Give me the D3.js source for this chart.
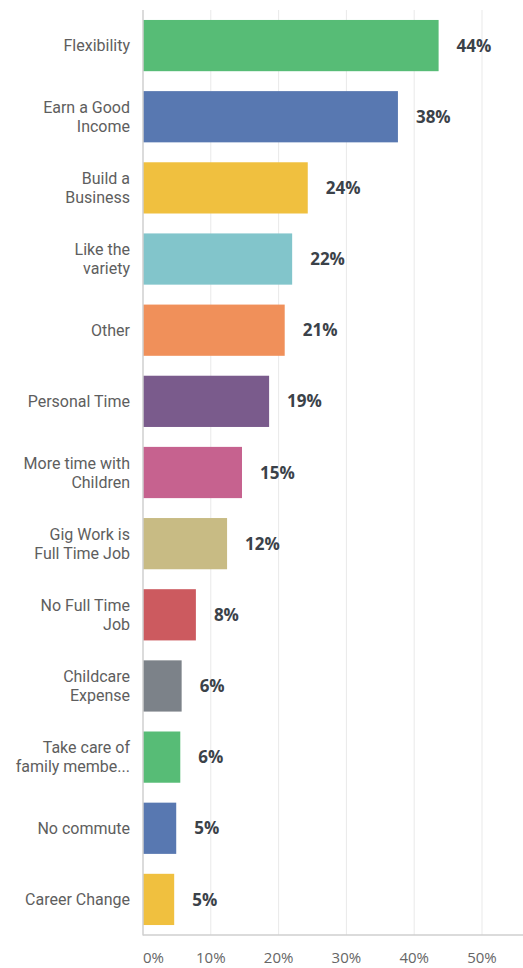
<!DOCTYPE html>
<html><head><meta charset="utf-8">
<script src="https://cdn.jsdelivr.net/npm/d3@7"></script>
<style>
html,body{margin:0;padding:0;background:#fff;}
svg{display:block;}
</style></head>
<body>
<svg id="chart" width="523" height="968"></svg>
<script>
const categories = [
  ["Flexibility"],
  ["Earn a Good","Income"],
  ["Build a","Business"],
  ["Like the","variety"],
  ["Other"],
  ["Personal Time"],
  ["More time with","Children"],
  ["Gig Work is","Full Time Job"],
  ["No Full Time","Job"],
  ["Childcare","Expense"],
  ["Take care of","family membe..."],
  ["No commute"],
  ["Career Change"]
];
const values = [43.6, 37.6, 24.3, 22.0, 20.9, 18.6, 14.6, 12.4, 7.8, 5.7, 5.5, 4.9, 4.6];
const colors = ["#57bc76","#5878b1","#f0c03f","#82c5cb","#f0905a","#7a5b8c","#c6628f","#c8bb84","#cc5a5f","#7c8289","#57bc76","#5878b1","#f0c03f"];
const ticks = [0,10,20,30,40,50];

const svg = d3.select("#chart");
const x0 = 143, x1 = 482, yTop = 10, yBot = 935;
const x = d3.scaleLinear().domain([0,50]).range([x0,x1]);
const y = d3.scaleBand().domain(d3.range(categories.length)).range([yTop,yBot]).paddingInner(0.28).paddingOuter(0.14);

// gridlines
svg.append("g").selectAll("line").data(ticks.slice(1)).join("line")
  .attr("x1",d=>x(d)).attr("x2",d=>x(d)).attr("y1",yTop).attr("y2",yBot)
  .attr("stroke","#e9e9e9").attr("stroke-width",1);

// bars
svg.append("g").selectAll("rect").data(values).join("rect")
  .attr("x",x(0)).attr("y",(d,i)=>y(i)).attr("width",d=>x(d)-x(0)).attr("height",y.bandwidth())
  .attr("fill",(d,i)=>colors[i]);

// axis lines
svg.append("line").attr("x1",x0).attr("x2",x0).attr("y1",yTop).attr("y2",yBot+0.5).attr("stroke","#cfcfcf").attr("stroke-width",1.5);
svg.append("line").attr("x1",x0).attr("x2",523).attr("y1",yBot).attr("y2",yBot).attr("stroke","#cfcfcf").attr("stroke-width",1.5);

// value labels
svg.append("g").selectAll("text").data(values).join("text")
  .attr("x",d=>x(d)+18).attr("y",(d,i)=>y(i)+y.bandwidth()/2)
  .attr("dy","0.36em")
  .attr("font-family","'Open Sans', Roboto, sans-serif").attr("font-size",17).attr("font-weight",700)
  .attr("fill","#3b4249")
  .text(d=>Math.round(d)+"%");

// category labels
const lh = 19;
const cl = svg.append("g").selectAll("text").data(categories).join("text")
  .attr("text-anchor","end")
  .attr("font-family","Roboto, sans-serif").attr("font-size",16)
  .attr("fill","#5e5e5e")
  .attr("y",(d,i)=>y(i)+y.bandwidth()/2);
cl.each(function(lines){
  const t = d3.select(this);
  const start = -(lines.length-1)*lh/2;
  lines.forEach((s,j)=>{
    t.append("tspan").attr("x",130).attr("dy", j===0 ? (start + 5.6)+"px" : lh+"px").text(s);
  });
});

// tick labels
svg.append("g").selectAll("text").data(ticks).join("text")
  .attr("x",d=>x(d)).attr("y",958).attr("dy","0.35em")
  .attr("text-anchor",d=>d===0?"start":"middle")
  .attr("font-family","'Open Sans', Roboto, sans-serif").attr("font-size",15)
  .attr("fill","#666")
  .text(d=>d+"%");
</script>
</body></html>
